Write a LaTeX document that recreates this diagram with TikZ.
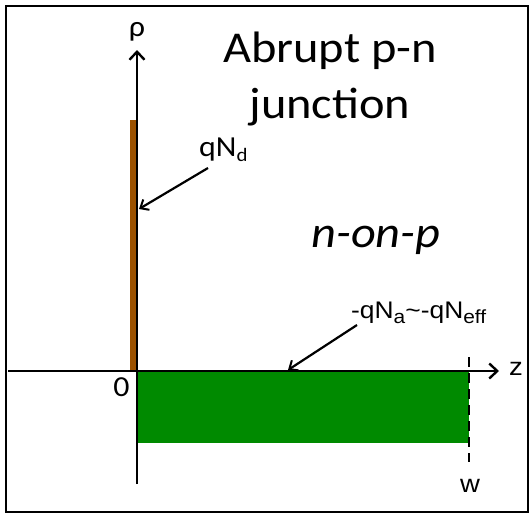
\documentclass[tikz,border=0pt]{standalone}
\usepackage{fontspec}
\usepackage{graphicx}
\setmainfont{Carlito}
\newfontfamily\arialfont{Liberation Sans}
\usetikzlibrary{arrows.meta}
\definecolor{donorbrown}{RGB}{156,82,0}
\definecolor{bulkgreen}{RGB}{0,138,0}
% slide text is slightly stretched sideways
\newcommand{\wideText}[1]{\scalebox{1.1}[1]{#1}}
\newcommand{\lowIdx}[1]{\raisebox{-5pt}{\fontsize{19}{19}\selectfont #1}}
\begin{document}
\begin{tikzpicture}[
  x=1pt, y=-1pt,
  axis/.style={line width=2.8pt, -{Straight Barb[length=8pt,width=15pt,line width=2.4pt]}},
  pointer/.style={line width=2.2pt, -{Straight Barb[length=7pt,width=12pt,line width=2pt]}},
  lbl/.style={inner sep=0pt, font=\fontsize{29}{29}\selectfont},
  albl/.style={inner sep=0pt, font=\arialfont\fontsize{25}{25}\selectfont},
  big/.style={inner sep=0pt, anchor=base, font=\fontsize{44}{44}\selectfont}
]
\useasboundingbox (0,0) rectangle (530,514);
% frame
\draw[line width=2.5pt] (6,6) rectangle (528,512);

% charge blocks
\fill[donorbrown] (130,120) rectangle (137,371);
\fill[bulkgreen] (137,371) rectangle (469,443);

% depletion edge
\draw[line width=2.8pt, dash pattern=on 10pt off 6pt] (469,357) -- (469,462);

% axes
\coordinate (origin) at (137,371);
\coordinate (rhotop) at (137,50);
\coordinate (zend) at (499,371);
\draw[axis] (137,484) -- (rhotop);
\draw[axis] (8,371) -- (zend);
\node[lbl] (rho) at (137,32) {\wideText{ρ}};
\node[albl] (zlab) at (516,369) {\wideText{z}};
\node[lbl] (zero) at (121.5,387.5) {\wideText{0}};
\node[albl] (wlab) at (470,486) {\wideText{w}};

% titles
\node[big] (titletop) at (330,62) {\wideText{Abrupt p-n}};
\node[big] (titlebot) at (330,118) {\wideText{junction}};
\node[big, font=\itshape\fontsize{44}{44}\selectfont] (type) at (376,247)
  {\wideText{n-on-p}};

% charge labels
\node[inner sep=0pt, anchor=base west, font=\fontsize{29}{29}\selectfont] (nd) at (199,156)
  {\wideText{qN\lowIdx{d}}};
\node[inner sep=0pt, anchor=base west, font=\arialfont\fontsize{24}{24}\selectfont] (na) at (351,318)
  {\wideText{-qN\lowIdx{a}\textasciitilde-qN\lowIdx{eff}}};
\coordinate (ndtip) at (139,209);
\coordinate (natip) at (288,370);
\draw[pointer] (208,168) -- (ndtip);
\draw[pointer] (357,325) -- (natip);
\end{tikzpicture}
\end{document}
